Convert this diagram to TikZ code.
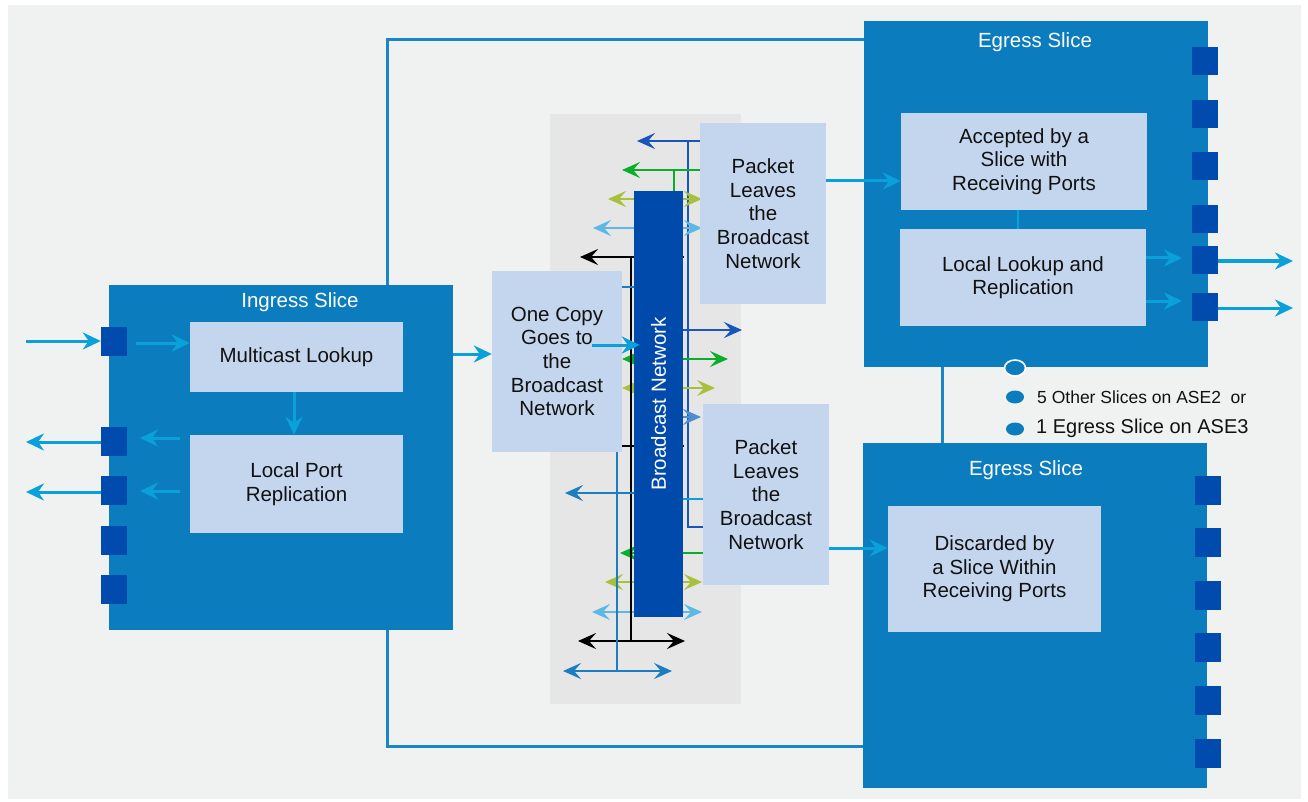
\documentclass[tikz,border=0pt]{standalone}
\usepackage{fontspec}
\setmainfont{Liberation Sans}
\usetikzlibrary{arrows.meta,calc}
\definecolor{bgc}{HTML}{F0F2F2}
\definecolor{panelc}{HTML}{E6E6E6}
\definecolor{slicec}{HTML}{0B7CBD}
\definecolor{portc}{HTML}{004BAD}
\definecolor{boxc}{HTML}{C4D6EE}
\definecolor{flowc}{HTML}{0AA0DA}
\definecolor{linkc}{HTML}{1A86C6}
\definecolor{barc}{HTML}{004AAC}
\definecolor{cdbc}{HTML}{1A55BB}
\definecolor{cgc}{HTML}{0AAE2A}
\definecolor{cyc}{HTML}{A9C13A}
\definecolor{clbc}{HTML}{5DB8E6}
\definecolor{cbtc}{HTML}{1C7DC1}
\definecolor{cmbc}{HTML}{4B8ED2}
\definecolor{txtc}{HTML}{111111}
\newcommand{\boxfont}{\fontsize{20.5}{23.6}\selectfont}
\tikzset{
  ftip/.tip={Stealth[length=18pt,width=17pt,inset=6pt]},
  btip/.tip={Stealth[length=18pt,width=16pt,inset=7pt]},
  slicebox/.style={fill=slicec, inner sep=0pt, minimum width=344pt, minimum height=345pt},
  porte/.style={fill=portc, inner sep=0pt, minimum width=26pt, minimum height=29pt},
  inbox/.style={fill=boxc, inner sep=0pt, align=center, font=\boxfont, text=txtc},
  stitle/.style={text=white, font=\boxfont, inner sep=0pt},
  flow/.style={draw=flowc, line width=3pt, -ftip},
  link/.style={draw=linkc, line width=3pt},
  bus/.style={line width=2.4pt},
}
\begin{document}
\begin{tikzpicture}[x=1pt,y=-1pt]
\useasboundingbox (0,0) rectangle (1308,802);
\fill[white] (0,0) rectangle (1308,802);
\fill[bgc] (8,5) rectangle (1301,799);

% links between slices (drawn under slices)
\coordinate (lt) at (387,40);
\coordinate (lb) at (387,746);
\draw[link] (387,285) -- (lt) -- (866,40);
\draw[link] (387,630) -- (lb) -- (865,746);
\draw[link] (942,366) -- (942,444);

% ingress slice
\node[slicebox] (ing) at (281,457.5) {};
\node[stitle] (ingt) at (300,302) {Ingress Slice};
\node[porte] (ip1) at (114,341) {};
\node[porte] (ip2) at (114,441) {};
\node[porte] (ip3) at (114,490.5) {};
\node[porte] (ip4) at (114,540.5) {};
\node[porte] (ip5) at (114,589.5) {};
\node[inbox, minimum width=213pt, minimum height=70pt] (ml) at (296.5,357) {Multicast Lookup};
\node[inbox, minimum width=213pt, minimum height=98pt] (lp) at (296.5,484) {Local Port\\Replication};

\coordinate (inx) at (26,341);
\draw[flow] (inx) -- (ip1.west);
\draw[flow] ($(ip1.east)+(9,2)$) -- (ml.west |- 0,343);
\draw[flow] (ml.south -| 294,0) -- (lp.north -| 294,0);
\draw[flow] ($(lp.west |- 0,438)+(-10,0)$) -- (140,438);
\draw[flow] ($(lp.west |- 0,491)+(-10,0)$) -- (140,491);
\coordinate (ox1) at (26,442);
\coordinate (ox2) at (26,492);
\draw[flow] (ip2.west |- ox1) -- (ox1);
\draw[flow] (ip3.west |- ox2) -- (ox2);

% broadcast panel
\fill[panelc] (550,114) rectangle (741,704);

% bus lines
\begin{scope}[bus]
% dark blue
\draw[cdbc] (688,141) -- (688,527) -- (705,527);
\draw[cdbc,-btip] (702,141) -- (637,141);
\draw[cdbc,-btip] (683,330) -- (742,330);
% green
\draw[cgc,-btip] (702,170) -- (622,170);
\draw[cgc] (674,170) -- (674,193);
\draw[cgc,-btip] (660,359) -- (728,359);
\draw[cgc,-btip] (650,359) -- (622,359);
\draw[cgc,-btip] (705,553) -- (620,553);
% yellow green
\draw[cyc,btip-btip] (608,199) -- (702,199);
\draw[cyc,btip-btip] (622,388) -- (715,388);
\draw[cyc,btip-btip] (605,582) -- (702,582);
% light blue
\draw[clbc,btip-btip] (593,228) -- (702,228);
\draw[clbc,btip-btip] (592,612) -- (702,612);
% black
\draw[black,-btip] (631,257) -- (580,257);
\draw[black] (631,257) -- (631,641);
\draw[black] (631,257) -- (684,257);
\draw[black] (622,446) -- (684,446);
\draw[black,btip-btip] (578,641) -- (685,641);
% blue
\draw[cbtc] (617,287) -- (617,671);
\draw[cbtc] (600,287) -- (640,287);
\draw[cbtc,-btip] (640,493) -- (565,493);
\draw[cbtc,btip-btip] (563,671) -- (672,671);
% medium blue and cyan
\draw[cmbc,-btip] (660,417) -- (701,417);
\draw[flowc,-btip] (660,499) -- (722,499);
\end{scope}

% broadcast bar
\node[fill=barc, inner sep=0pt, minimum width=49pt, minimum height=426pt] (bar) at (658.5,404) {};
\node[rotate=90, text=white, font=\boxfont, inner sep=0pt] (bart) at (bar.center) {Broadcast Network};

% boxes around broadcast network
\node[inbox, minimum width=130pt, minimum height=181pt] (oc) at (557,361.5) {One Copy\\Goes to\\the\\Broadcast\\Network};
\node[inbox, minimum width=126pt, minimum height=181pt] (pl1) at (763,213.5) {Packet\\Leaves\\the\\Broadcast\\Network};
\node[inbox, minimum width=126pt, minimum height=181pt] (pl2) at (766,494.5) {Packet\\Leaves\\the\\Broadcast\\Network};

\draw[flow] (ing.east |- 0,354) -- (oc.west |- 0,354);
\draw[flow] (592,345) -- (bar.west |- 0,345) -- ++(6,0);

% egress slice top
\node[slicebox, minimum height=346pt] (eg1) at (1036,194) {};
\node[stitle] (eg1t) at (1035,42) {Egress Slice};
\foreach \i/\y in {1/61.5,2/114.5,3/166.5,4/219.5,5/260,6/307}
  \node[porte, minimum height=28pt] (ep\i) at (1205,\y) {};
\node[inbox, minimum width=246pt, minimum height=97pt] (acc) at (1024,161.5) {Accepted by a\\Slice with\\Receiving Ports};
\node[inbox, minimum width=246pt, minimum height=97pt] (llr) at (1023,277.5) {Local Lookup and\\Replication};
\draw[flowc, line width=2.4pt] (acc.south -| 1018,0) -- (llr.north -| 1018,0);
\draw[flow] (llr.east |- 0,258) -- (1182,258);
\draw[flow] (llr.east |- 0,301) -- (1182,301);
\coordinate (eo1) at (1293,261);
\coordinate (eo2) at (1293,308);
\draw[flow] (ep5.east |- eo1) -- (eo1);
\draw[flow] (ep6.east |- eo2) -- (eo2);
\draw[flow] (pl1.east |- 0,181) -- (acc.west |- 0,181);

% egress slice bottom
\node[slicebox] (eg2) at (1035,615.5) {};
\node[stitle] (eg2t) at (1026,470) {Egress Slice};
\foreach \i/\y in {1/490.5,2/542.5,3/595.5,4/647.5,5/700.5,6/753.5}
  \node[porte] (fp\i) at (1208,\y) {};
\node[inbox, minimum width=213pt, minimum height=126pt] (dis) at (994.5,569) {Discarded by\\a Slice Within\\Receiving Ports};
\draw[flow] (pl2.east |- 0,548) -- (dis.west |- 0,548);

% legend dots
\draw[white, line width=1.6pt, fill=slicec] (1015,368) ellipse [x radius=10.5pt, y radius=8pt];
\fill[slicec] (1015,397) ellipse [x radius=9pt, y radius=6.5pt];
\fill[slicec] (1015,429) ellipse [x radius=9pt, y radius=6.5pt];
\node[anchor=west, inner sep=0pt, text=txtc, font=\fontsize{17.5}{20}\selectfont] (lg1) at (1037,397) {5 Other Slices on ASE2~ or};
\node[anchor=west, inner sep=0pt, text=txtc, font=\fontsize{20}{23}\selectfont] (lg2) at (1036,428) {1 Egress Slice on ASE3};
\end{tikzpicture}
\end{document}
